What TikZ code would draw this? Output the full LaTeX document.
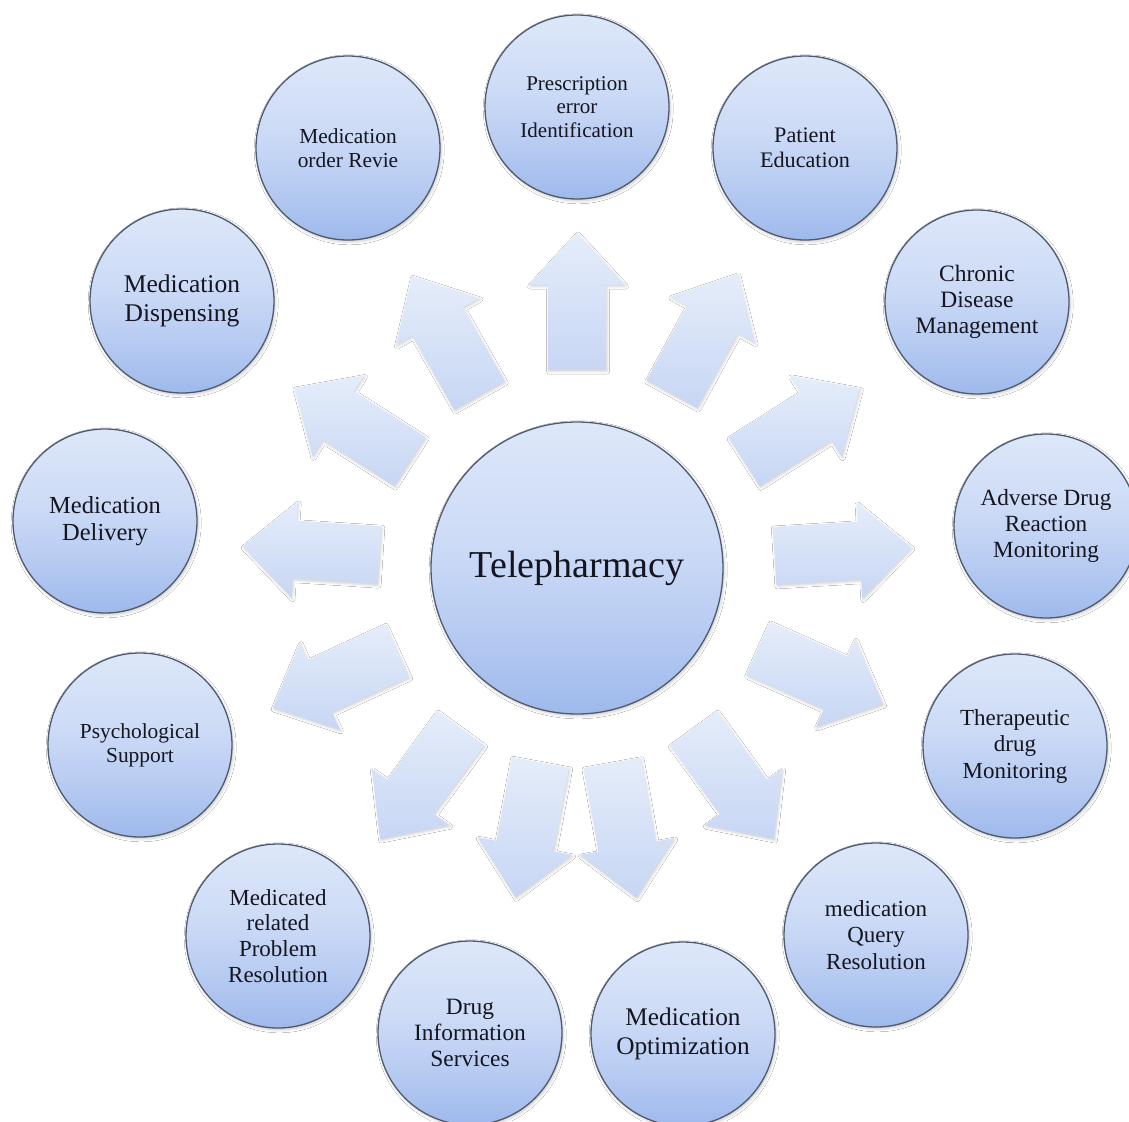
\documentclass[tikz,border=0pt]{standalone}
\usepackage{fontspec}
\setmainfont{Liberation Serif}
\usetikzlibrary{calc,shadows.blur}

\definecolor{bubbleA}{HTML}{DDE7F9}
\definecolor{bubbleB}{HTML}{CDDBF6}
\definecolor{bubbleC}{HTML}{B8CCF2}
\definecolor{bubbleD}{HTML}{9EB9EC}
\definecolor{rimcol}{HTML}{4E5A6E}
\definecolor{inkcol}{HTML}{15151F}
\definecolor{arrowTop}{HTML}{E5EDFA}
\definecolor{arrowBot}{HTML}{C7D6F4}

% light at the top, deeper blue towards the bottom
\pgfdeclareverticalshading{bubble}{100bp}{%
  color(0bp)=(bubbleD); color(25bp)=(bubbleD); color(40bp)=(bubbleC);
  color(55bp)=(bubbleB); color(75bp)=(bubbleA); color(100bp)=(bubbleA)}

\tikzset{
  bubble/.style={circle, minimum size=184pt, inner sep=0pt, outer sep=0pt,
    shade, shading=bubble, draw=rimcol, line width=1.3pt,
    text=inkcol, align=center,
    blur shadow={shadow xshift=1.2pt, shadow yshift=-1.8pt,
      shadow blur radius=3pt, shadow opacity=22}},
  hub/.style={bubble, minimum size=292pt},
  flowarrow/.style={top color=arrowTop, bottom color=arrowBot,
    blur shadow={shadow xshift=1pt, shadow yshift=-1.5pt,
      shadow blur radius=2.5pt, shadow opacity=18}},
  fs/.style 2 args={font=\fontsize{#1}{#2}\selectfont}
}

% block arrow pointing away from the hub at angle #1:
% tail at radius 198, head base at 283, tip at 335
\newcommand\radialarrow[1]{%
  \path[flowarrow]
    ($(T.center)+(#1:198)+(#1+90:29)$) --
    ($(T.center)+(#1:283)+(#1+90:29)$) --
    ($(T.center)+(#1:283)+(#1+90:48)$) --
    ($(T.center)+(#1:335)$) --
    ($(T.center)+(#1:283)+(#1-90:48)$) --
    ($(T.center)+(#1:283)+(#1-90:29)$) --
    ($(T.center)+(#1:198)+(#1-90:29)$) -- cycle;}

\begin{document}
\begin{tikzpicture}[x=1pt, y=1pt]
  \clip (0,0) rectangle (1129,-1121);
  \fill[white] (0,0) rectangle (1129,-1121);

  % hub
  \node[hub, fs={38}{44}] (T) at (577,-568) {Telepharmacy};

  % services around the hub
  \node[bubble, fs={21}{23.7}]   (p1)  at (577,-107)  {Prescription\\error\\Identification};
  \node[bubble, fs={22.2}{25.1}] (p2)  at (805,-148)  {Patient\\Education};
  \node[bubble, fs={23.5}{26.2}] (p3)  at (977,-302)  {Chronic\\Disease\\Management};
  \node[bubble, fs={23.2}{26.2}] (p4)  at (1046,-526) {Adverse Drug\\Reaction\\Monitoring};
  \node[bubble, fs={23}{26.5}]   (p5)  at (1015,-746) {Therapeutic\\drug\\Monitoring};
  \node[bubble, fs={23}{26.5}]   (p6)  at (876,-935)  {medication\\Query\\Resolution};
  \node[bubble, fs={25.3}{28.6}] (p7)  at (683,-1034) {Medication\\Optimization};
  \node[bubble, fs={23.4}{26}]   (p8)  at (470,-1033) {Drug\\Information\\Services};
  \node[bubble, fs={23}{25.8}]   (p9)  at (278,-936)  {Medicated\\related\\Problem\\Resolution};
  \node[bubble, fs={21.4}{24.2}] (p10) at (140,-745)  {Psychological\\Support};
  \node[bubble, fs={24.5}{27.7}] (p11) at (105,-521)  {Medication\\Delivery};
  \node[bubble, fs={25.5}{28.8}] (p12) at (182,-301)  {Medication\\Dispensing};
  \node[bubble, fs={21.4}{24.2}] (p13) at (348,-148)  {Medication\\order Revie};

  % arrows from the hub towards each service
  \foreach \a in {90, 61.4, 32.4, 3.5, -24, -54, -79.8, -100.6, -126,
                  -155.3, 176.3, 147.5, 119.5}
    {\radialarrow{\a}}
\end{tikzpicture}
\end{document}
